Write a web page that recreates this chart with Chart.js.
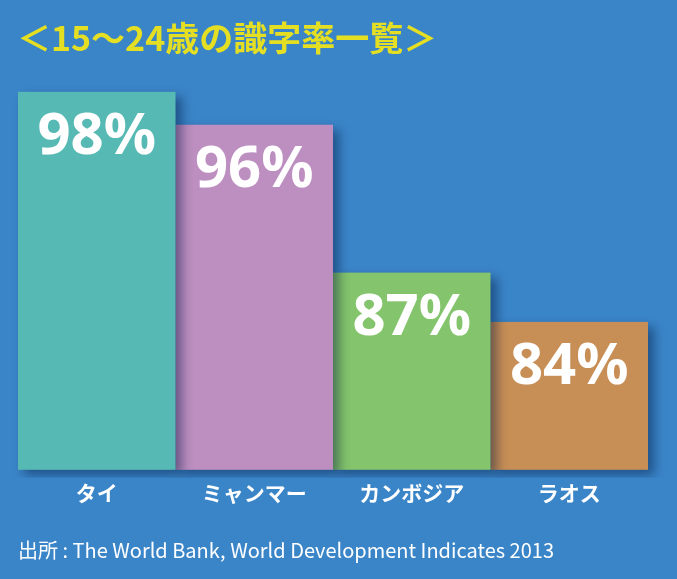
<!DOCTYPE html>
<html>
<head>
<meta charset="utf-8">
<script src="https://cdn.jsdelivr.net/npm/chart.js@4"></script>
<style>
  html, body { margin: 0; padding: 0; background: #3a85c8; }
  #wrap { width: 677px; height: 579px; }
</style>
</head>
<body>
<div id="wrap"><canvas id="myChart" width="677" height="579"></canvas></div>
<script>
var titleText = '＜15～24歳の識字率一覧＞';
var sourceText = '出所 : The World Bank, World Development Indicates 2013';
var countries = ['タイ', 'ミャンマー', 'カンボジア', 'ラオス'];
var literacy = [98, 96, 87, 84];
var barColors = ['#57b9b4', '#bd8fc1', '#84c46c', '#c78f56'];

// bars drawn right-to-left so each one's shadow falls on its neighbour
var shadowBars = {
    id: 'shadowBars',
    beforeDatasetDraw: function (chart, args) {
        var ctx = chart.ctx;
        var area = chart.chartArea;
        var bars = args.meta.data;
        ctx.save();
        // clip the bottom at the axis, leave room for the shadow
        ctx.beginPath();
        ctx.rect(0, 0, chart.width, area.bottom + 8);
        ctx.clip();
        ctx.shadowColor = 'rgba(0, 20, 60, 0.45)';
        ctx.shadowBlur = 10;
        ctx.shadowOffsetX = 6;
        ctx.shadowOffsetY = 5;
        for (var i = bars.length - 1; i >= 0; i--) {
            var b = bars[i].getProps(['x', 'y', 'width'], true);
            ctx.fillStyle = barColors[i];
            ctx.fillRect(b.x - b.width / 2, b.y, b.width, area.bottom - b.y);
        }
        ctx.restore();
        return false;
    },
    afterDatasetsDraw: function (chart) {
        var ctx = chart.ctx;
        var bars = chart.getDatasetMeta(0).data;
        ctx.save();
        ctx.fillStyle = '#ffffff';
        ctx.font = 'bold 58px "Noto Sans", sans-serif';
        ctx.textAlign = 'center';
        ctx.textBaseline = 'middle';
        for (var i = 0; i < bars.length; i++) {
            ctx.fillText(literacy[i] + '%', bars[i].x, bars[i].y + 46);
        }
        ctx.restore();
    },
    afterDraw: function (chart) {
        var ctx = chart.ctx;
        ctx.save();
        ctx.textBaseline = 'middle';
        ctx.textAlign = 'left';
        ctx.fillStyle = '#e4df22';
        ctx.font = 'bold 34px "Noto Sans CJK JP", sans-serif';
        ctx.fillText(titleText, 17, 38);
        ctx.fillStyle = '#ffffff';
        ctx.font = '20px "Noto Sans CJK JP", sans-serif';
        ctx.fillText(sourceText, 18, 550);
        ctx.restore();
    }
};

new Chart('myChart', {
    type: 'bar',
    data: {
        labels: countries,
        datasets: [{
            data: literacy,
            backgroundColor: barColors,
            borderWidth: 0,
            categoryPercentage: 1.0,
            barPercentage: 1.0
        }]
    },
    options: {
        responsive: false,
        animation: false,
        layout: { padding: { top: 59, left: 18, right: 29, bottom: 70 } },
        plugins: {
            legend: { display: false },
            tooltip: { enabled: false }
        },
        scales: {
            x: {
                grid: { display: false },
                border: { display: false },
                ticks: {
                    color: '#ffffff',
                    padding: 3,
                    font: { family: '"Noto Sans CJK JP", sans-serif', size: 21, weight: 'bold' }
                }
            },
            y: {
                display: false,
                min: 75,
                max: 100
            }
        }
    },
    plugins: [shadowBars]
});
</script>
</body>
</html>
